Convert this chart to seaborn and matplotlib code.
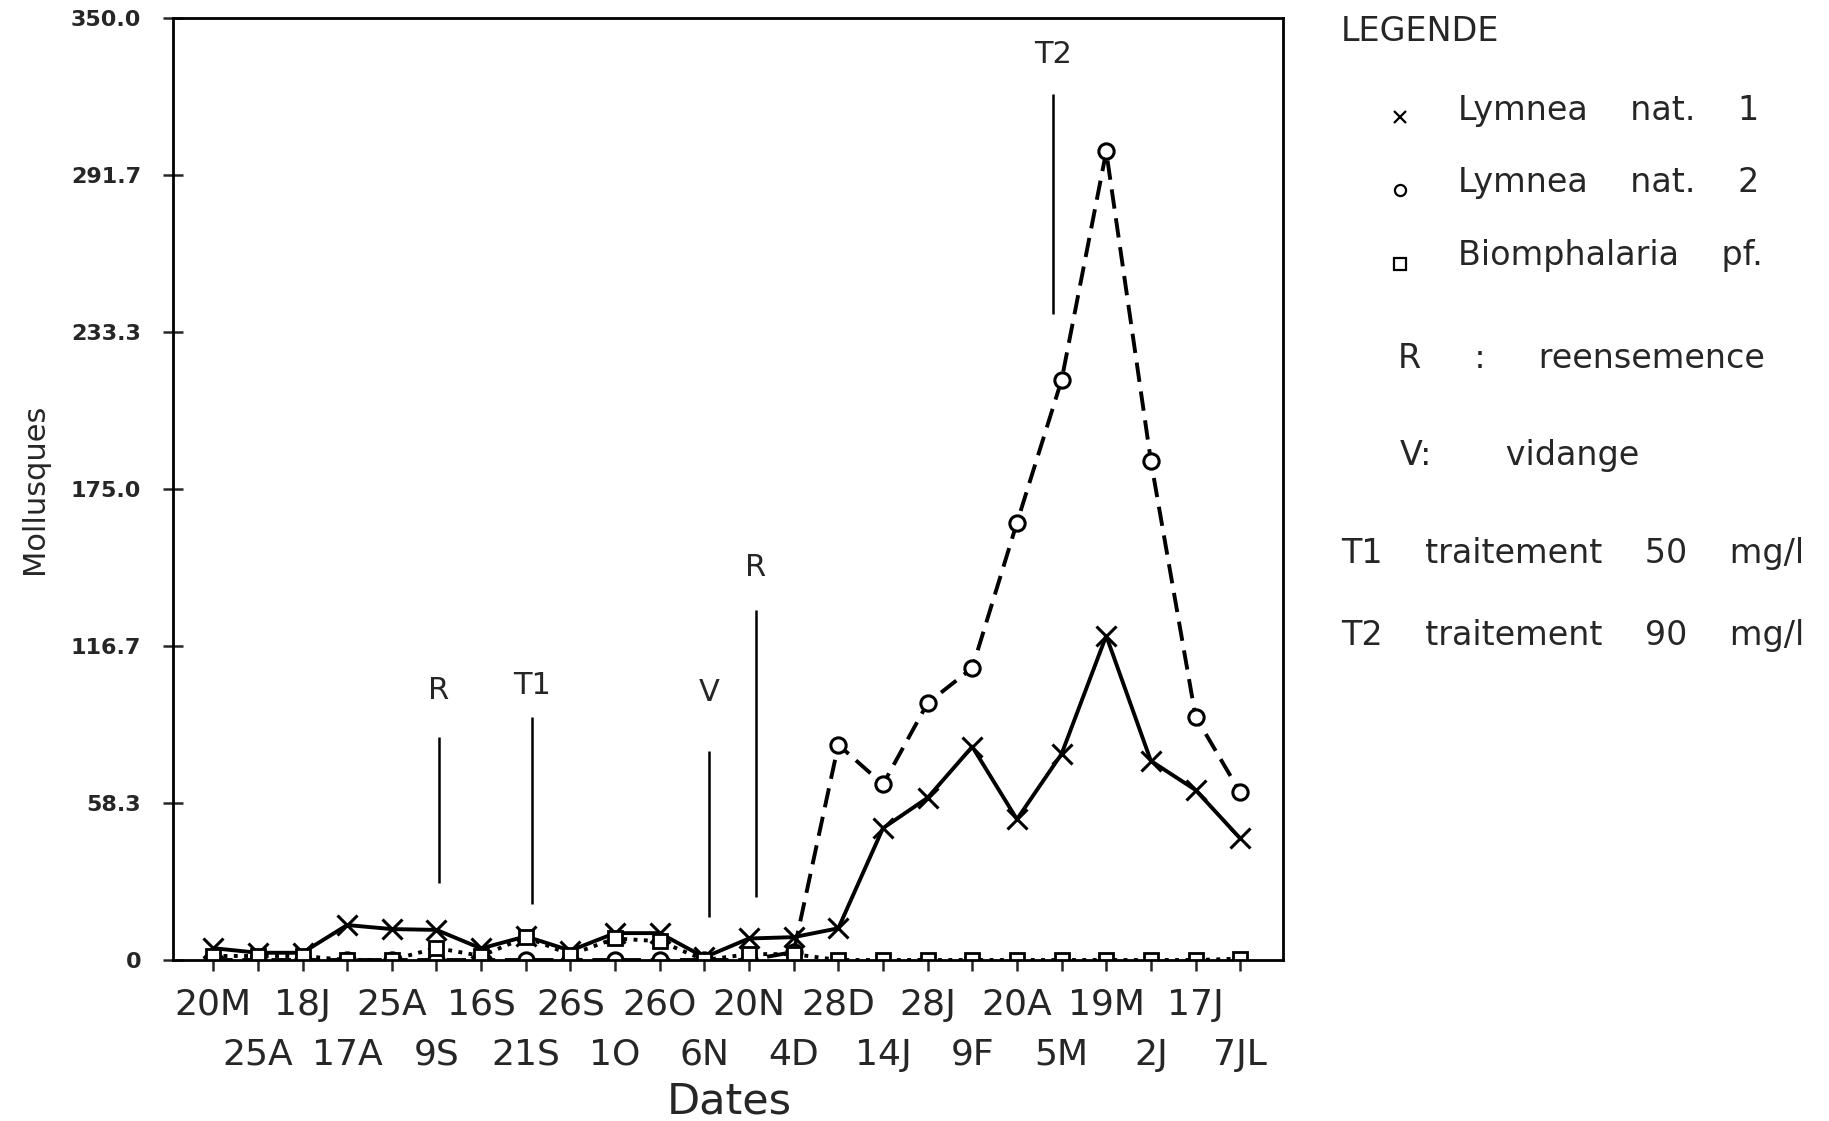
import numpy as np
import matplotlib
matplotlib.use("Agg")
import matplotlib.pyplot as plt
import seaborn as sns

# dates des prélèvements (24 relevés)
dates = ["20M", "25A", "18J", "17A", "25A", "9S", "16S", "21S", "26S", "1O", "26O", "6N",
         "20N", "4D", "28D", "14J", "28J", "9F", "20A", "5M", "19M", "2J", "17J", "7JL"]

lymnea_1 = [4.4, 2.7, 2.7, 13.0, 11.5, 11.2, 4.3, 8.8, 3.5, 10.0, 10.0, 1.0,
            8.0, 8.5, 11.8, 49.0, 60.3, 79.3, 52.3, 76.6, 120.5, 74.0, 63.2, 45.2]
lymnea_2 = [0, 0, 0, 0, 0, 0, 0, 0, 0, 0, 0, 0,
            0, 3.0, 80.0, 65.3, 95.5, 108.5, 162.5, 215.5, 300.5, 185.5, 90.5, 62.3]
biomphalaria = [1.5, 1.5, 1.5, 0, 0, 4.5, 1.5, 8.5, 2.0, 8.0, 7.0, 0,
                2.2, 2.2, 0, 0, 0, 0, 0, 0, 0, 0, 0, 0.5]

# événements : étiquette, position (en relevés), bas et haut du trait, hauteur du texte
event_labels = ["R", "T1", "V", "R", "T2"]
event_pos = [5.05, 7.15, 11.1, 12.15, 18.8]
event_low = [28.5, 21.0, 16.0, 23.5, 240.0]
event_high = [83.0, 90.5, 77.5, 130.0, 322.0]
event_text_y = [100.0, 102.0, 99.5, 146.0, 336.5]

y_ticks = [0, 58.3, 116.7, 175.0, 233.3, 291.7, 350.0]
y_tick_labels = ["0", "58.3", "116.7", "175.0", "233.3", "291.7", "350.0"]

sns.set_style("ticks")
plt.rcParams["font.family"] = ["DejaVu Sans"]

fig = plt.figure(figsize=(18.29, 11.21), dpi=100)
ax = fig.add_axes([0.0946, 0.1436, 0.6069, 0.8401])

x = np.arange(len(dates))

sns.lineplot(x=x, y=lymnea_1, ax=ax, color="black", linewidth=2.8,
             marker="x", markersize=14, markeredgewidth=2.2, markeredgecolor="black")
sns.lineplot(x=x, y=lymnea_2, ax=ax, color="black", linewidth=2.8, linestyle=(0, (5, 2.5)),
             marker="o", markersize=11, markeredgewidth=2.2, markeredgecolor="black",
             markerfacecolor="white")
sns.lineplot(x=x, y=biomphalaria, ax=ax, color="black", linewidth=2.8, linestyle=":",
             marker="s", markersize=10, markeredgewidth=2.0, markeredgecolor="black",
             markerfacecolor="white")

# traits verticaux des événements
ax.vlines(event_pos, event_low, event_high, color="black", linewidth=1.8)
for lab, xp, yt in zip(event_labels, event_pos, event_text_y):
    ax.text(xp, yt, lab, ha="center", va="center", fontsize=22)

ax.set_xlim(-0.90, 23.96)
ax.set_ylim(0, 350)
ax.set_yticks(y_ticks)
ax.set_yticklabels(y_tick_labels, fontsize=16, fontweight="bold")

# dates sur deux rangées : paires en haut, impaires en dessous
ax.set_xticks(x[::2])
ax.set_xticklabels(dates[::2])
ax.set_xticks(x[1::2], minor=True)
ax.set_xticklabels(dates[1::2], minor=True)

ax.tick_params(axis="y", direction="inout", length=14, width=1.8, pad=16)
ax.tick_params(axis="x", which="major", direction="out", length=8, width=1.8, pad=12,
               labelsize=26)
ax.tick_params(axis="x", which="minor", direction="out", length=8, width=1.8, pad=48,
               labelsize=26)
for sp in ax.spines.values():
    sp.set_linewidth(2.0)
    sp.set_color("black")

ax.set_xlabel("Dates", fontsize=31)
ax.xaxis.set_label_coords(0.501, -0.128)
ax.set_ylabel("Mollusques", fontsize=22)
ax.yaxis.set_label_coords(-0.112, 0.5)

# légende dessinée à droite
fs = 24
fig.text(0.7332, 0.9719, "LEGENDE", fontsize=fs, va="center", ha="left")
fig.text(0.7972, 0.901, "Lymnea    nat.    1", fontsize=fs, va="center", ha="left")
fig.text(0.7972, 0.8376, "Lymnea    nat.    2", fontsize=fs, va="center", ha="left")
fig.text(0.7972, 0.7725, "Biomphalaria    pf.", fontsize=fs, va="center", ha="left")
fig.text(0.7644, 0.6806, "R     :     reensemence", fontsize=fs, va="center", ha="left")
fig.text(0.7654, 0.5941, "V:       vidange", fontsize=fs, va="center", ha="left")
fig.text(0.7332, 0.5058, "T1    traitement    50    mg/l", fontsize=fs, va="center", ha="left")
fig.text(0.7332, 0.4327, "T2    traitement    90    mg/l", fontsize=fs, va="center", ha="left")

for mk, yy in zip(["x", "o", "s"], [0.8955, 0.8305, 0.7645]):
    ax.plot([0.7654], [yy], transform=fig.transFigure, clip_on=False, marker=mk,
            markersize=8, markeredgewidth=1.6, markeredgecolor="black",
            markerfacecolor="white", color="black", linestyle="none")

fig.savefig("out.png", dpi=100)
